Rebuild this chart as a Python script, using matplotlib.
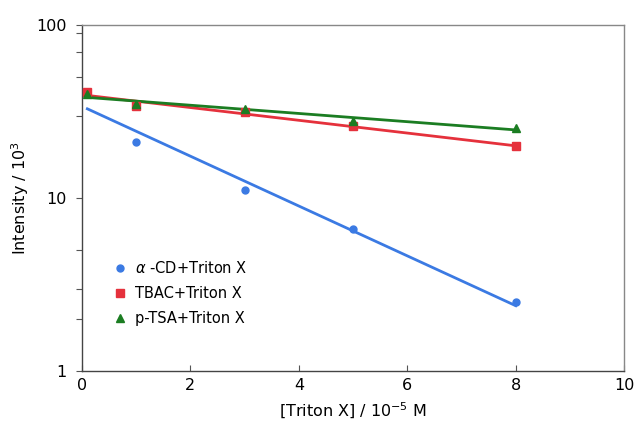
import matplotlib
matplotlib.use("Agg")
import matplotlib.pyplot as plt
import numpy as np
from matplotlib.ticker import FixedLocator, NullFormatter

plt.rcParams["font.family"] = ["DejaVu Sans"]

# [Triton X] / 1e-5 M
conc = [0.1, 1, 3, 5, 8]

# intensity / 1e3
cd_int = [40, 21, 11.2, 6.6, 2.5]
tbac_int = [41, 34, 31.5, 26, 20]
ptsa_int = [40, 35, 33, 28, 25.5]

labels = ["$\\alpha$ -CD+Triton X", "TBAC+Triton X", "p-TSA+Triton X"]
series = [cd_int, tbac_int, ptsa_int]
colors = ["#3b7ae3", "#e5313c", "#1b7d22"]
markers = ["o", "s", "^"]
msizes = [5, 5.5, 6]

fig = plt.figure(figsize=(6.35, 4.28), dpi=100)
ax = fig.add_axes([0.129, 0.133, 0.854, 0.808])


def exp_fit(x, y):
    # straight line in log space
    k, b = np.polyfit(x, np.log(y), 1)
    xs = np.linspace(min(x), max(x), 50)
    return xs, np.exp(k * xs + b)


handles = []
for y, c, m, ms, lab in zip(series, colors, markers, msizes, labels):
    xs, ys = exp_fit(conc, y)
    ax.plot(xs, ys, color=c, lw=2.0, zorder=2)
    h, = ax.plot(conc, y, ls="none", marker=m, ms=ms, color=c,
                 mec=c, zorder=3, label=lab)
    handles.append(h)

ax.set_yscale("log")
ax.set_xlim(0, 10)
ax.set_ylim(1, 100)
ax.set_xticks([0, 2, 4, 6, 8, 10])
ax.set_yticks([1, 10, 100])
ax.set_yticklabels(["1", "10", "100"])
ax.yaxis.set_minor_locator(FixedLocator([2, 3, 5, 30, 50, 70, 90]))
ax.yaxis.set_minor_formatter(NullFormatter())

ax.tick_params(axis="x", direction="in", length=4, width=0.8,
               labelsize=11.5, pad=5, color="#555555")
ax.tick_params(axis="y", which="both", direction="out", length=4,
               width=0.8, labelsize=11.5, pad=7, color="#555555")

for side in ("left", "bottom"):
    ax.spines[side].set_color("#444444")
    ax.spines[side].set_linewidth(1.0)
for side in ("top", "right"):
    ax.spines[side].set_color("#888888")
    ax.spines[side].set_linewidth(1.0)

ax.set_xlabel("[Triton X] / 10$^{-5}$ M", fontsize=11.5, labelpad=6)
ax.set_ylabel("Intensity / 10$^{3}$", fontsize=11.5, labelpad=4)

ax.legend(handles=handles, loc="lower left", bbox_to_anchor=(0.052, 0.113),
          frameon=False, fontsize=10.5, handlelength=0.6, handletextpad=0.7,
          labelspacing=0.68, borderaxespad=0)

fig.savefig("out.png", dpi=100)
